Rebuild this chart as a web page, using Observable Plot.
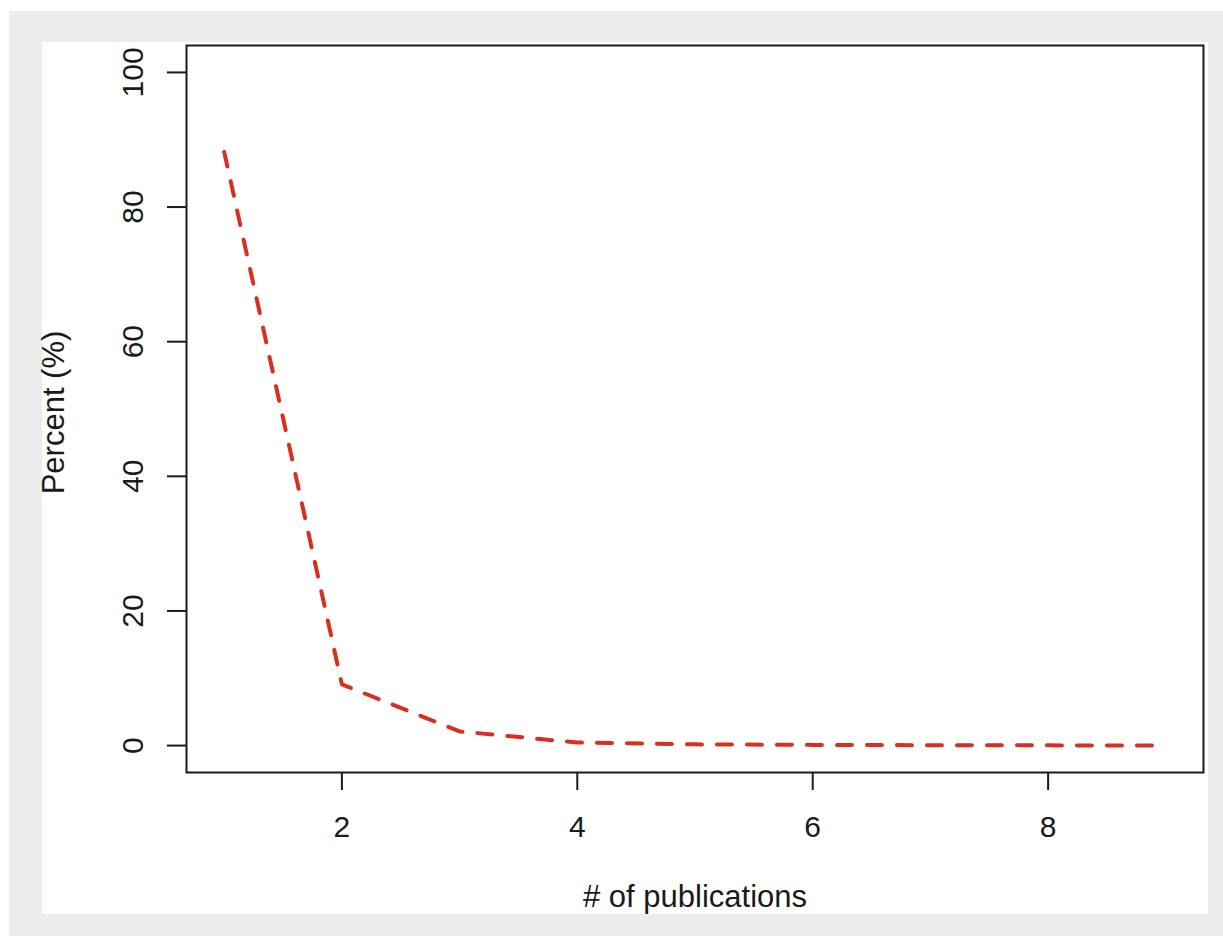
<!DOCTYPE html>
<html><head><meta charset="utf-8">
<script src="https://cdn.jsdelivr.net/npm/d3@7"></script>
<script src="https://cdn.jsdelivr.net/npm/@observablehq/plot@0.6"></script>
<style>
html,body{margin:0;padding:0;background:#fff;}
#bg{position:absolute;left:9px;top:11px;width:1214px;height:925px;background:#ececec;}
#panel{position:absolute;left:42px;top:42px;width:1166px;height:872px;background:#fff;}
#chart{position:absolute;left:0;top:0;}
#chart svg{display:block;}
</style></head><body>
<div id="bg"></div><div id="panel"></div><div id="chart"></div>
<script>
const publications = [1, 2, 3, 4, 5, 6, 7, 8, 9];
const percent = [88.2, 9.1, 2.1, 0.45, 0.18, 0.1, 0.06, 0.03, 0.02];
const xTicks = [2, 4, 6, 8];
const yTicks = [0, 20, 40, 60, 80, 100];
const xTitle = "# of publications";
const yTitle = "Percent (%)";

const data = publications.map((p, i) => ({p, v: percent[i]}));

const chart = Plot.plot({
  width: 1223, height: 936,
  marginLeft: 186, marginRight: 20, marginTop: 45, marginBottom: 164,
  style: {fontFamily: "'Liberation Sans', Arial, sans-serif", background: "transparent", color: "#1a1a1a"},
  x: {domain: [0.68, 9.32]},
  y: {domain: [-4, 104]},
  marks: [
    Plot.frame({stroke: "#1a1a1a", strokeWidth: 2}),
    Plot.axisX({ticks: xTicks, tickSize: 18, tickPadding: 25, fontSize: 30, label: null, strokeWidth: 2}),
    Plot.axisY({ticks: yTicks, tickSize: 19, tickPadding: 25, fontSize: 30, tickRotate: -90, label: null, strokeWidth: 2}),
    Plot.line(data, {x: "p", y: "v", stroke: "#d7301f", strokeWidth: 4, strokeDasharray: "15,15", strokeLinecap: "round"}),
    Plot.text([xTitle], {text: d => d, frameAnchor: "bottom", dy: 134, lineAnchor: "bottom", textAnchor: "middle", fontSize: 31, fill: "#1a1a1a"}),
    Plot.text([yTitle], {text: d => d, frameAnchor: "left", dx: -132, dy: 3.5, rotate: -90, lineAnchor: "middle", textAnchor: "middle", fontSize: 31, fill: "#1a1a1a"})
  ]
});
document.getElementById("chart").appendChild(chart);
</script>
</body></html>
